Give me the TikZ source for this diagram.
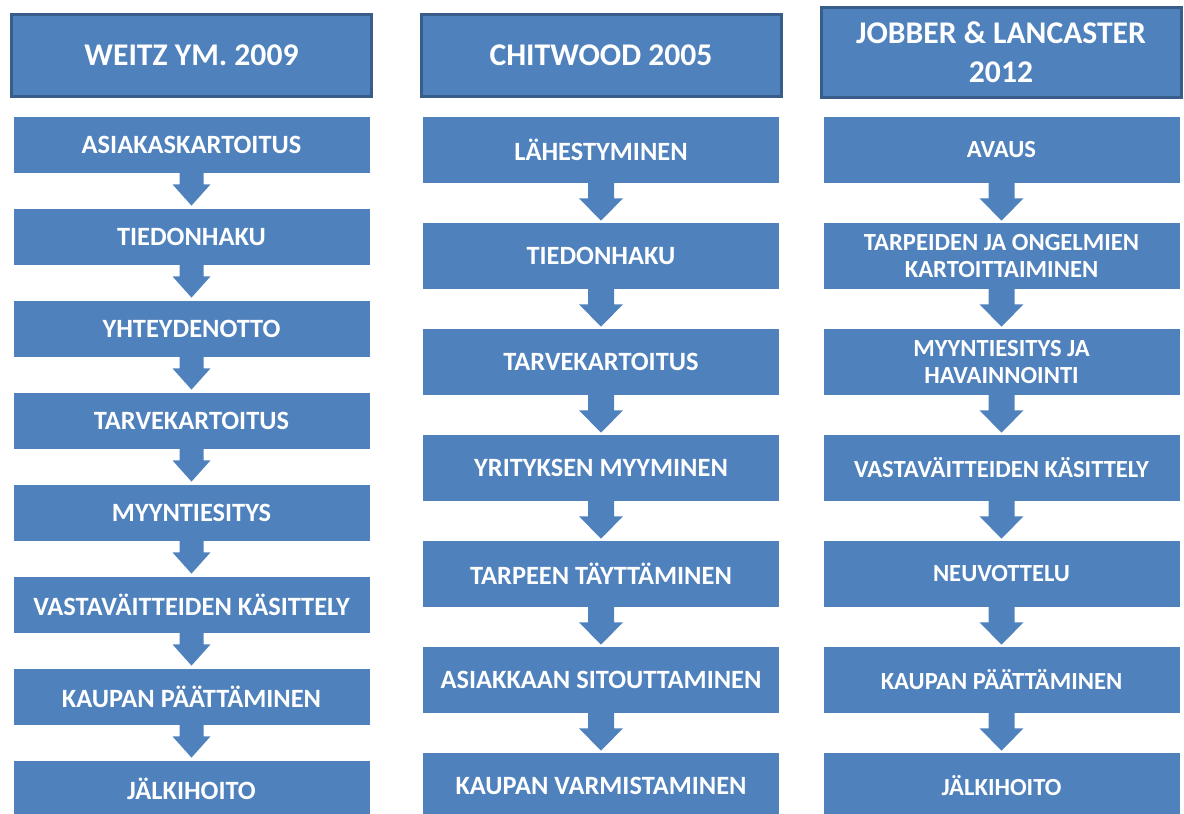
\documentclass[tikz,border=0pt]{standalone}
\usepackage{fontspec}
\setmainfont{Carlito}
\usetikzlibrary{calc}
\definecolor{boxblue}{HTML}{4F81BD}
\definecolor{edgeblue}{HTML}{385D8A}
\tikzset{
  headbox/.style={draw=edgeblue,fill=boxblue,line width=1.5pt,
                  inner sep=0pt,minimum width=180pt,align=center,
                  text=white,font=\fontsize{15.8}{19.5}\selectfont\bfseries},
  stepbox/.style={fill=boxblue,inner sep=0pt,minimum width=178pt,
                  align=center,text=white,font=\fontsize{13.2}{13.5}\selectfont\bfseries},
  smallstep/.style={stepbox,font=\fontsize{12.3}{13.5}\selectfont\bfseries},
  arrowfill/.style={fill=boxblue}
}

\begin{document}
\begin{tikzpicture}[x=0.5pt,y=-0.5pt]
  \useasboundingbox (0,0) rectangle (1184,814);

  % headers
  \node[headbox,minimum height=41pt] (hw) at (191.5,55) {WEITZ YM. 2009};
  \node[headbox,minimum height=41pt] (hc) at (601,55) {CHITWOOD 2005};
  \node[headbox,minimum height=45pt] (hj) at (1001,52) {JOBBER \& LANCASTER\\2012};

  % Weitz ym.
  \foreach \t [count=\i] in {ASIAKASKARTOITUS,TIEDONHAKU,YHTEYDENOTTO,TARVEKARTOITUS,
      MYYNTIESITYS,VASTAVÄITTEIDEN KÄSITTELY,KAUPAN PÄÄTTÄMINEN,JÄLKIHOITO}
    \node[stepbox,minimum height=28pt] (w\i) at (191.5,{145+92*(\i-1)}) {\t};

  % Chitwood
  \foreach \t [count=\i] in {LÄHESTYMINEN,TIEDONHAKU,TARVEKARTOITUS,YRITYKSEN MYYMINEN,
      TARPEEN TÄYTTÄMINEN,ASIAKKAAN SITOUTTAMINEN,KAUPAN VARMISTAMINEN}
    \node[stepbox,minimum height=33pt] (c\i) at (601,{150+106*(\i-1)}) {\t};

  % Jobber & Lancaster
  \foreach \t [count=\i] in {AVAUS,TARPEIDEN JA ONGELMIEN\\KARTOITTAIMINEN,
      MYYNTIESITYS JA\\HAVAINNOINTI,VASTAVÄITTEIDEN KÄSITTELY,NEUVOTTELU,
      KAUPAN PÄÄTTÄMINEN,JÄLKIHOITO}
    \node[smallstep,minimum height=33pt] (j\i) at (1001.5,{150+106*(\i-1)}) {\t};

  % block arrows
  \foreach \a/\b in {w1/w2,w2/w3,w3/w4,w4/w5,w5/w6,w6/w7,w7/w8}
    \fill[arrowfill] ($(\a.south)+(-12,-1)$) -- ($(\a.south)+(-12,11)$)
      -- ($(\a.south)+(-19,11)$) -- ($(\b.north)+(0,-3)$)
      -- ($(\a.south)+(19,11)$) -- ($(\a.south)+(12,11)$)
      -- ($(\a.south)+(12,-1)$) -- cycle;
  \foreach \a/\b in {c1/c2,c2/c3,c3/c4,c4/c5,c5/c6,c6/c7,j1/j2,j2/j3,j3/j4,j4/j5,j5/j6,j6/j7}
    \fill[arrowfill] ($(\a.south)+(-13,-1)$) -- ($(\a.south)+(-13,15)$)
      -- ($(\a.south)+(-22,15)$) -- ($(\b.north)+(0,-2)$)
      -- ($(\a.south)+(22,15)$) -- ($(\a.south)+(13,15)$)
      -- ($(\a.south)+(13,-1)$) -- cycle;
\end{tikzpicture}
\end{document}
